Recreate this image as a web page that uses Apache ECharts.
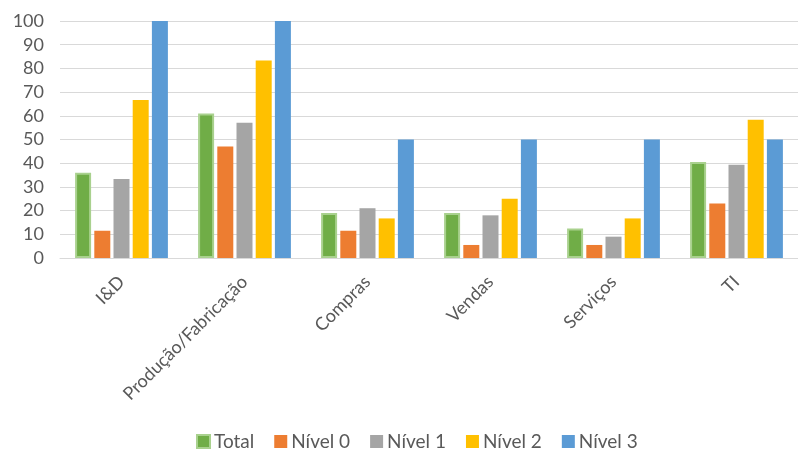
<!DOCTYPE html>
<html>
<head>
<meta charset="utf-8">
<script src="https://cdn.jsdelivr.net/npm/echarts@6/dist/echarts.min.js"></script>
<style>
  html, body { margin: 0; padding: 0; background: #fff; }
  #chart { width: 798px; height: 450px; }
</style>
</head>
<body>
<div id="chart"></div>
<script>
// categorias e valores (%)
const categories = ['I&D', 'Produção/Fabricação', 'Compras', 'Vendas', 'Serviços', 'TI']
const total = [36, 61, 19, 19, 12.5, 40.5]
const nivel0 = [11.5, 47, 11.5, 5.5, 5.5, 23]
const nivel1 = [33.3, 57.1, 21, 18, 9, 39.3]
const nivel2 = [66.7, 83.3, 16.7, 25, 16.7, 58.3]
const nivel3 = [100, 100, 50, 50, 50, 50]

const font = 'Lato, "Open Sans", sans-serif'
const textColor = '#595959'

const chart = echarts.init(document.getElementById('chart'))

function bar (name, data, color, border) {
  return {
    name: name,
    type: 'bar',
    data: data,
    barWidth: 16,
    barGap: '20%',
    itemStyle: {
      color: color,
      borderColor: border || color,
      borderWidth: border ? 2 : 0
    }
  }
}

chart.setOption({
  animation: false,
  textStyle: { fontFamily: font },
  grid: { left: 60, right: 0, top: 21, bottom: 192 },
  legend: {
    top: 432,
    left: 196,
    padding: 0,
    itemWidth: 13,
    itemHeight: 13,
    itemGap: 20,
    icon: 'rect',
    textStyle: { color: textColor, fontSize: 19, fontFamily: font, padding: [0, 0, 0, -1] }
  },
  xAxis: {
    type: 'category',
    data: categories,
    axisTick: { show: false },
    axisLine: { lineStyle: { color: '#D9D9D9', width: 1 } },
    axisLabel: {
      rotate: 45,
      interval: 0,
      margin: 21,
      color: textColor,
      fontSize: 18,
      fontFamily: font
    }
  },
  yAxis: {
    type: 'value',
    min: 0,
    max: 100,
    interval: 10,
    axisLine: { show: false },
    axisTick: { show: false },
    axisLabel: { color: textColor, fontSize: 18, fontFamily: font, margin: 16 },
    splitLine: { lineStyle: { color: '#D9D9D9', width: 1 } }
  },
  series: [
    bar('Total', total, '#70AD47', '#A9D18E'),
    bar('Nível 0', nivel0, '#ED7D31'),
    bar('Nível 1', nivel1, '#A5A5A5'),
    bar('Nível 2', nivel2, '#FFC000'),
    bar('Nível 3', nivel3, '#5B9BD5')
  ]
})
</script>
</body>
</html>
